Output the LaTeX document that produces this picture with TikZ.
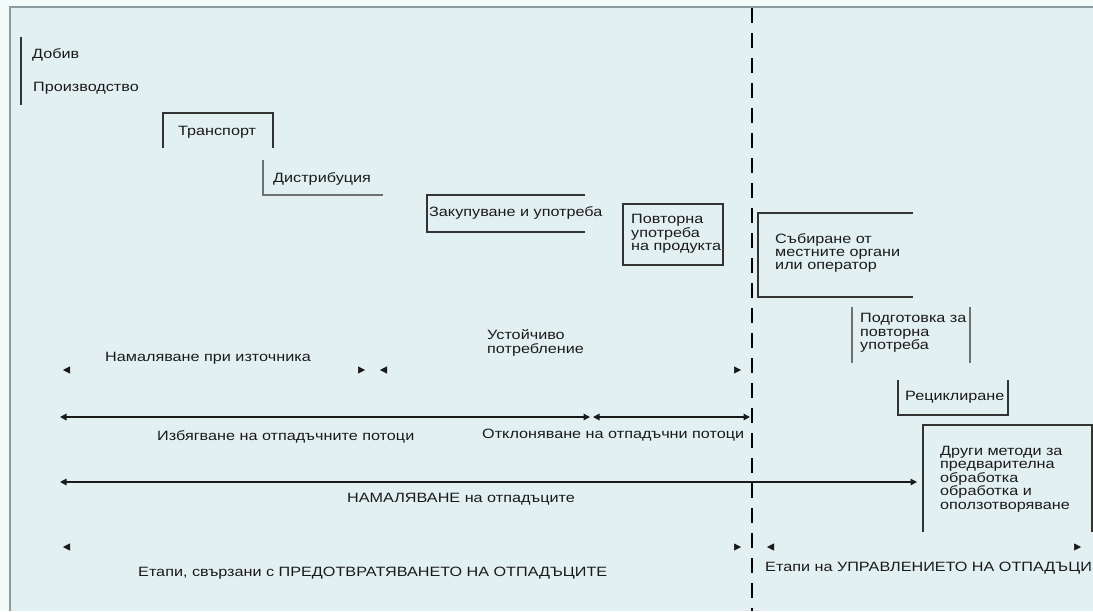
\documentclass[tikz,border=0pt]{standalone}
\usepackage{fontspec}
\setmainfont{Liberation Sans}[FakeStretch=1.2]
\usetikzlibrary{arrows.meta}
\definecolor{bgin}{HTML}{E3F0F2}
\definecolor{bgout}{HTML}{F3FAFA}
\definecolor{framec}{HTML}{8C9C9E}
\definecolor{ink}{HTML}{1A1A1A}
\definecolor{boxc}{HTML}{333333}
\begin{document}
\begin{tikzpicture}[x=1pt,y=-1pt,
  lbl/.style={anchor=west,inner sep=0pt,text=ink,font=\fontsize{13.5}{13.4}\selectfont,align=left},
  boxline/.style={draw=boxc,line width=1.4pt},
  softline/.style={draw=boxc!70,line width=1.2pt},
  conn/.style={draw=ink,line width=1.4pt,{Triangle[length=6.5pt,width=6.5pt]}-{Triangle[length=6.5pt,width=6.5pt]}},
  ghost/.style={draw=bgin,line width=0.5pt,{Triangle[length=7pt,width=7pt,color=ink]}-{Triangle[length=7pt,width=7pt,color=ink]}},
  divider/.style={draw=black,line width=2.5pt,dash pattern=on 15pt off 10pt}]
\useasboundingbox (0,0) rectangle (1093,611);
\fill[bgout] (0,0) rectangle (1093,611);
\fill[bgin] (10,7) rectangle (1093,611);
\draw[framec,line width=1.5pt] (10,611) -- (10,7) -- (1093,7);

% divider
\coordinate (dtop) at (752,8);
\coordinate (dbot) at (752,611);
\draw[divider] (dtop) -- (dbot);

% stage boxes
\draw[boxline] (21,37) -- (21,105);
\node[lbl] (dobiv) at (32,55) {Добив};
\node[lbl] (proizv) at (33,88) {Производство};

\draw[boxline] (163,148) -- (163,113) -- (273,113) -- (273,148);
\node[lbl] (transp) at (178,132) {Транспорт};

\draw[softline] (263,160) -- (263,195) -- (383,195);
\node[lbl] (distr) at (273,179) {Дистрибуция};

\draw[boxline] (585,195) -- (427,195) -- (427,232) -- (585,232);
\node[lbl] (zakup) at (429,213) {Закупуване и употреба};

\draw[boxline] (623,204) rectangle (723,265);
\node[lbl] (povt) at (631,234) {Повторна\\употреба\\на продукта};

\draw[boxline] (913,213) -- (758,213) -- (758,297) -- (913,297);
\node[lbl] (sabir) at (775,253) {Събиране от\\местните органи\\или оператор};

\draw[softline] (852,307) -- (852,363);
\draw[softline] (970,307) -- (970,363);
\node[lbl] (podg) at (860,333) {Подготовка за\\повторна\\употреба};

\draw[boxline] (898,380) -- (898,415) -- (1008,415) -- (1008,380);
\node[lbl] (recik) at (905,397) {Рециклиране};

\draw[boxline] (923,532) -- (923,425) -- (1092,425) -- (1092,532);
\node[lbl] (drugi) at (940,479) {Други методи за\\предварителна\\обработка\\обработка и\\оползотворяване};

% row 1
\coordinate (r1a) at (63,370);
\coordinate (r1b) at (365,370);
\coordinate (r1c) at (380,370);
\coordinate (r1d) at (741,370);
\draw[ghost] (r1a) -- (r1b);
\draw[ghost] (r1c) -- (r1d);
\node[lbl] (namist) at (105,358) {Намаляване при източника};
\node[lbl] (ustoi) at (487,343) {Устойчиво\\потребление};

% row 2
\coordinate (r2a) at (60,417);
\coordinate (r2b) at (590,417);
\coordinate (r2c) at (593,417);
\coordinate (r2d) at (750,417);
\draw[conn] (r2a) -- (r2b);
\draw[conn] (r2c) -- (r2d);
\node[lbl] (izbyag) at (157,437) {Избягване на отпадъчните потоци};
\node[lbl] (otklon) at (482,435) {Отклоняване на отпадъчни потоци};

% row 3
\coordinate (r3a) at (60,482);
\coordinate (r3b) at (917,482);
\draw[conn] (r3a) -- (r3b);
\node[lbl] (namal) at (347,499) {НАМАЛЯВАНЕ на отпадъците};

% row 4
\coordinate (r4a) at (63,547);
\coordinate (r4b) at (741,547);
\coordinate (r4c) at (767,547);
\coordinate (r4d) at (1081,547);
\draw[ghost] (r4a) -- (r4b);
\draw[ghost] (r4c) -- (r4d);
\node[lbl] (etprev) at (138,573) {Етапи, свързани с ПРЕДОТВРАТЯВАНЕТО НА ОТПАДЪЦИТЕ};
\node[lbl] (etupr) at (765,568) {Етапи на УПРАВЛЕНИЕТО НА ОТПАДЪЦИ};
\end{tikzpicture}
\end{document}
